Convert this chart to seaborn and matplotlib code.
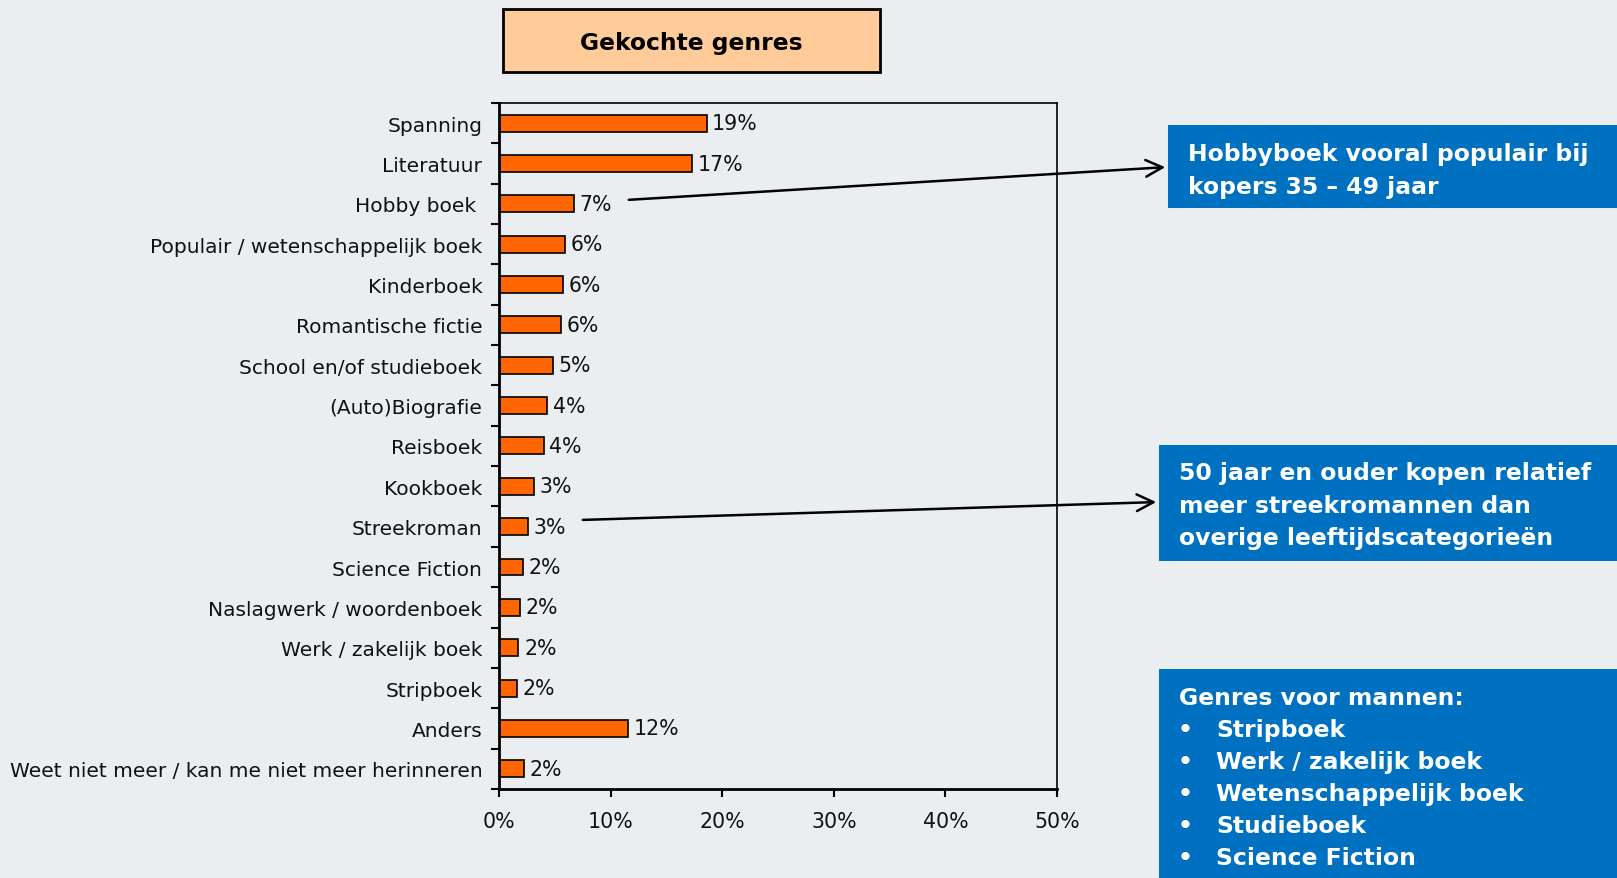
import seaborn as sns
import matplotlib.pyplot as plt
import matplotlib.patches as mpatches
import pandas as pd

genres = ['Spanning', 'Literatuur', 'Hobby boek ', 'Populair / wetenschappelijk boek',
          'Kinderboek', 'Romantische fictie', 'School en/of studieboek', '(Auto)Biografie',
          'Reisboek', 'Kookboek', 'Streekroman', 'Science Fiction',
          'Naslagwerk / woordenboek', 'Werk / zakelijk boek', 'Stripboek', 'Anders',
          'Weet niet meer / kan me niet meer herinneren']
shares = [18.6, 17.3, 6.7, 5.9, 5.7, 5.55, 4.8, 4.3, 4.0, 3.1, 2.6, 2.15,
          1.88, 1.74, 1.57, 11.6, 2.22]
share_labels = ['19%', '17%', '7%', '6%', '6%', '6%', '5%', '4%', '4%', '3%', '3%', '2%',
                '2%', '2%', '2%', '12%', '2%']
xticks = [0, 10, 20, 30, 40, 50]

df = pd.DataFrame({'genre': genres, 'share': shares})

bg = '#EAEEF0'
blue = '#0070C0'
sns.set_theme(style='white')
plt.rcParams['font.family'] = ['DejaVu Sans']

fig = plt.figure(figsize=(16.17, 8.79), dpi=100, facecolor=bg)
ax = fig.add_axes([0.3086, 0.1013, 0.3451, 0.7804])
ax.set_facecolor(bg)

sns.barplot(data=df, x='share', y='genre', color='#FF6600', edgecolor='black',
            linewidth=1.2, width=0.42, saturation=1, ax=ax)

for i, (v, lab) in enumerate(zip(shares, share_labels)):
    ax.text(v + 0.5, i, lab, va='center', ha='left', fontsize=14.8, color='#111111')

ax.set_xlim(0, 50)
ax.set_ylim(16.5, -0.5)
ax.set_xticks(xticks)
ax.set_xticklabels([f'{t}%' for t in xticks], fontsize=14.8, color='#111111')
ax.tick_params(axis='x', direction='out', length=6, width=1.5, color='black', pad=10, bottom=True)
ax.tick_params(axis='y', length=0, pad=12, labelsize=14.5, labelcolor='#111111')
ax.set_yticks([i + 0.5 for i in range(-1, 17)], minor=True)
ax.tick_params(axis='y', which='minor', direction='out', length=6, width=1.5, color='black', left=True)
ax.set_xlabel('')
ax.set_ylabel('')
for side in ['left', 'bottom']:
    ax.spines[side].set_linewidth(2)
    ax.spines[side].set_color('black')
for side in ['top', 'right']:
    ax.spines[side].set_linewidth(1.2)
    ax.spines[side].set_color('black')

# title box
fig.patches.append(mpatches.Rectangle((0.311, 0.917), 0.233, 0.0717, transform=fig.transFigure,
                                      facecolor='#FFCC99', edgecolor='black', linewidth=2))
fig.text(0.4275, 0.950, 'Gekochte genres', ha='center', va='center', fontsize=16.8,
         fontweight='bold', color='black')

# blue boxes (x0, y0, w, h in pixels from top)
W, H = 1617, 879
boxes = [(1168, 126, 449, 83), (1159, 446, 458, 116), (1159, 670, 458, 209)]
for x0, y0, w, h in boxes:
    fig.patches.append(mpatches.Rectangle((x0 / W, 1 - (y0 + h) / H), w / W, h / H,
                                          transform=fig.transFigure, facecolor=blue,
                                          edgecolor='none'))

fs = 16.9
fig.text(1188 / W, 1 - 143 / H, 'Hobbyboek vooral populair bij\nkopers 35 – 49 jaar',
         ha='left', va='top', fontsize=fs, fontweight='bold', color='white', linespacing=1.53)
fig.text(1179 / W, 1 - 462 / H,
         '50 jaar en ouder kopen relatief\nmeer streekromannen dan\noverige leeftijdscategorieën',
         ha='left', va='top', fontsize=fs, fontweight='bold', color='white', linespacing=1.53)
fig.text(1179 / W, 1 - 687 / H, 'Genres voor mannen:', ha='left', va='top', fontsize=fs,
         fontweight='bold', color='white')
men = ['Stripboek', 'Werk / zakelijk boek', 'Wetenschappelijk boek', 'Studieboek', 'Science Fiction']
for k, item in enumerate(men):
    y = 1 - (687 + 32 * (k + 1)) / H
    fig.text(1178 / W, y, '•', ha='left', va='top', fontsize=fs, fontweight='bold', color='white')
    fig.text(1216 / W, y, item, ha='left', va='top', fontsize=fs, fontweight='bold', color='white')

# arrows
arrows = [((626, 201), (1168, 168)), ((580, 521), (1159, 503))]
for (sx, sy), (ex, ey) in arrows:
    fig.add_artist(mpatches.FancyArrowPatch((sx / W, 1 - sy / H), (ex / W, 1 - ey / H),
                                            transform=fig.transFigure, arrowstyle='->',
                                            mutation_scale=30, linewidth=1.8, color='black'))

plt.savefig('out.png', dpi=100, facecolor=bg)
